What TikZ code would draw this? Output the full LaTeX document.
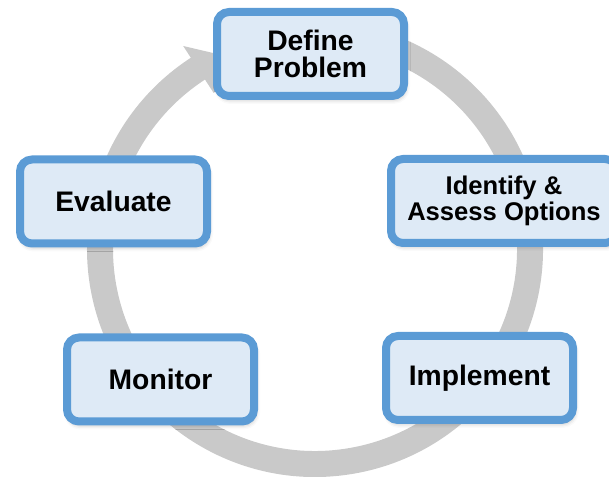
\documentclass[tikz,border=0pt]{standalone}
\usepackage{fontspec}
\setmainfont{Liberation Sans}
\usetikzlibrary{shadows.blur}
\definecolor{ringgray}{RGB}{201,201,201}
\definecolor{boxblue}{RGB}{91,155,213}
\definecolor{boxfill}{RGB}{222,234,246}
\begin{document}
\begin{tikzpicture}[x=0.75pt,y=0.75pt,
  stagebox/.style={draw=boxblue, fill=boxfill, line width=6pt, rounded corners=9pt,
    minimum width=140.25pt, minimum height=63pt, inner sep=0pt, align=center,
    font=\fontsize{21.2}{20.25}\selectfont\bfseries,
    blur shadow={shadow xshift=1pt, shadow yshift=-2.5pt, shadow blur radius=3.5pt, shadow opacity=30}},
  ringline/.style={draw=ringgray, line width=19.5pt},
  ringhead/.style={fill=ringgray}]
\useasboundingbox (0,0) rectangle (609,477);
\clip (0,0) rectangle (609,477);
\coordinate (C) at (315,228);
\coordinate (hOut) at (183.2,431);
\coordinate (hTip) at (238.2,418.1);
\coordinate (hIn) at (213.7,384);
\draw[ringline] (C) ++(100:215) arc[start angle=100, end angle=-238, radius=161.25pt];
\fill[ringhead] (hOut) -- (hTip) -- (hIn) -- cycle;
\node[stagebox] (define) at (310.5,423) {Define\\Problem};
\node[stagebox, minimum width=169.5pt, font=\fontsize{19.2}{20}\selectfont\bfseries] (identify) at (504,276) {Identify \&\\Assess Options};
\node[stagebox] (evaluate) at (113.5,275.5) {Evaluate};
\node[stagebox] (monitor) at (160.5,97.5) {Monitor};
\node[stagebox] (implement) at (479.5,99) {Implement};
\end{tikzpicture}
\end{document}
